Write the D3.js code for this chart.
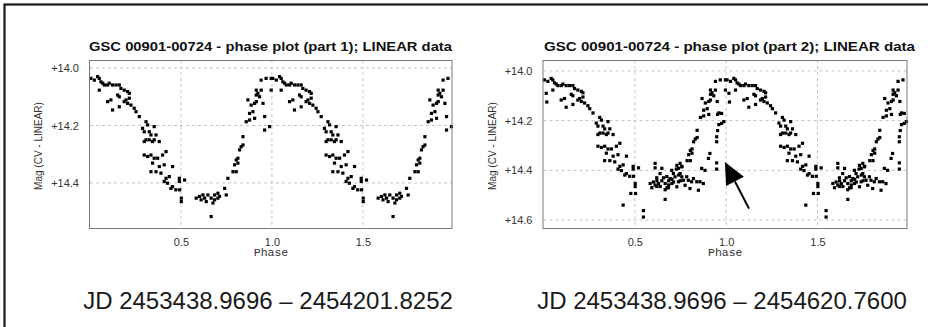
<!DOCTYPE html>
<html>
<head>
<meta charset="utf-8">
<script src="https://cdn.jsdelivr.net/npm/d3@7"></script>
<style>
  body { margin: 0; background: #fff; }
  svg { display: block; }
</style>
</head>
<body>
<div id="chart"></div>
<script>
// LINEAR photometry of GSC 00901-00724, phase 0..1 (each point is drawn at phase and phase+1)
// part 1: JD 2453438.9696 – 2454201.8252
const phase1 = [
  .005, .024, .042, .051, .060, .070, .079, .097, .106, .124, .143, .161, .170, .188, .207, .216,
  .051, .097, .115, .124, .152, .161, .161, .188, .198, .207, .216, .225, .243, .253, .271, .308,
  .317, .289, .298, .326, .353, .335, .363, .298, .308, .326, .344, .353, .381,
  .298, .317, .335, .353, .372, .399, .418, .344, .335, .363, .381, .390, .408, .454, .418, .408,
  .436, .426, .445, .454, .472, .491, .491,
  .520, .493, .502, .502, .584, .602, .611, .621, .630, .639, .648, .666, .676, .685, .685, .703,
  .703, .712, .666, .749, .740, .758, .786, .804, .795, .813, .804, .813, .822, .831, .841,
  .841, .859, .877, .877, .896, .905, .868, .886, .905, .914, .914, .923, .932, .914, .941, .951,
  .960, .960, .987, .996, .941, .968, .996
]
const mag1 = [
  14.036, 14.042, 14.030, 14.036, 14.048, 14.053, 14.059, 14.059, 14.053, 14.059, 14.059, 14.059, 14.071, 14.077, 14.082, 14.088,
  14.077, 14.117, 14.111, 14.146, 14.094, 14.135, 14.100, 14.117, 14.111, 14.123, 14.105, 14.129, 14.140, 14.152, 14.169, 14.187,
  14.198, 14.210, 14.222, 14.222, 14.204, 14.233, 14.233, 14.256, 14.250, 14.250, 14.256, 14.250, 14.256,
  14.303, 14.308, 14.303, 14.314, 14.314, 14.303, 14.291, 14.331, 14.361, 14.361, 14.343, 14.366, 14.337, 14.343, 14.384, 14.395,
  14.378, 14.401, 14.419, 14.413, 14.424, 14.384, 14.395,
  14.390, 14.424, 14.453, 14.465, 14.453, 14.447, 14.459, 14.442, 14.453, 14.465, 14.442, 14.453, 14.470, 14.442, 14.459, 14.436,
  14.453, 14.447, 14.517, 14.442, 14.419, 14.384, 14.361, 14.361, 14.337, 14.331, 14.320, 14.314, 14.285, 14.274, 14.268,
  14.239, 14.187, 14.181, 14.158, 14.152, 14.175, 14.111, 14.129, 14.123, 14.117, 14.094, 14.088, 14.100, 14.077, 14.077, 14.123,
  14.169, 14.216, 14.204, 14.077, 14.042, 14.036, 14.036
]
// part 2 adds the later data, up to JD 2454620.7600
const phase2Extra = [
  .015, .018, .436, .478, .504, .547, .547,
  .611, .611, .638, .648, .657, .675, .693, .702, .711, .720, .730, .739, .739, .748, .757, .757, .766,
  .775, .784, .793, .802, .811, .821, .839, .848, .857, .875, .866, .884, .727, .730, .620, .593, .666,
  .684, .620, .748,
  .903, .911, .948, .948, .948, .948, .953, .953, .975, .975
]
const mag2Extra = [
  14.090, 14.125, 14.540, 14.493, 14.493, 14.562, 14.588,
  14.372, 14.390, 14.413, 14.392, 14.430, 14.425, 14.433, 14.400, 14.413, 14.426, 14.466, 14.446, 14.392, 14.413, 14.386, 14.426, 14.440,
  14.460, 14.426, 14.440, 14.473, 14.446, 14.433, 14.446, 14.480, 14.446, 14.453, 14.392, 14.400, 14.395, 14.380, 14.465, 14.470, 14.478,
  14.470, 14.430, 14.372,
  14.352, 14.332, 14.395, 14.370, 14.285, 14.265, 14.240, 14.175, 14.171, 14.211
]

const xTicks = [0.5, 1.0, 1.5]
const yTicks1 = [14.0, 14.2, 14.4]
const yTicks2 = [14.0, 14.2, 14.4, 14.6]
const titles = [
  'GSC 00901-00724 - phase plot (part 1); LINEAR data',
  'GSC 00901-00724 - phase plot (part 2); LINEAR data',
]
const jdLabels = ['JD 2453438.9696 – 2454201.8252', 'JD 2453438.9696 – 2454620.7600']
// arrow in part 2: from [phase, mag] to [phase, mag]
const arrowFrom = [1.125, 14.554]
const arrowTo = [0.993, 14.366]

const WIDTH = 928
const HEIGHT = 327
const X_MAX = 1.99

const pts1 = phase1.map((p, i) => [p, mag1[i]])
const pts2 = pts1.concat(phase2Extra.map((p, i) => [p, mag2Extra[i]]))

const PANELS = [
  { left: 90, right: 452, top: 60, bottom: 228, yDomain: [13.972, 14.557], yTicks: yTicks1,
    pts: pts1, title: titles[0], titleX: 89, titleLen: 363, jd: jdLabels[0], jdX: 268 },
  { left: 543.5, right: 907, top: 60, bottom: 228, yDomain: [13.956, 14.632], yTicks: yTicks2,
    pts: pts2, title: titles[1], titleX: 544, titleLen: 371, jd: jdLabels[1], jdX: 722 },
]

const svg = d3.select('#chart').append('svg')
  .attr('width', WIDTH).attr('height', HEIGHT)
  .attr('font-family', "'Liberation Sans', Arial, sans-serif")

svg.append('rect').attr('width', WIDTH).attr('height', HEIGHT).attr('fill', '#fff')

// outer frame (runs off the right and bottom edges)
svg.append('rect')
  .attr('x', 4.5).attr('y', 4.5)
  .attr('width', WIDTH + 20).attr('height', HEIGHT + 20)
  .attr('fill', 'none').attr('stroke', '#1a1a1a').attr('stroke-width', 2.2)

PANELS.forEach((pn, pi) => {
  const x = d3.scaleLinear().domain([0, X_MAX]).range([pn.left, pn.right])
  const y = d3.scaleLinear().domain(pn.yDomain).range([pn.top, pn.bottom])
  const g = svg.append('g')

  // grid
  g.selectAll('.gx').data(xTicks).enter().append('line')
    .attr('x1', d => x(d)).attr('x2', d => x(d))
    .attr('y1', pn.top).attr('y2', pn.bottom)
    .attr('stroke', '#c4c4c4').attr('stroke-dasharray', '3,3')
  g.selectAll('.gy').data(pn.yTicks).enter().append('line')
    .attr('x1', pn.left).attr('x2', pn.right)
    .attr('y1', d => y(d)).attr('y2', d => y(d))
    .attr('stroke', '#c4c4c4').attr('stroke-dasharray', '3,3')

  // axes, labels only
  const xAxis = g.append('g')
    .attr('transform', `translate(0,${pn.bottom})`)
    .call(d3.axisBottom(x).tickValues(xTicks).tickFormat(d3.format('.1f')).tickSize(0).tickPadding(10))
  const yAxis = g.append('g')
    .attr('transform', `translate(${pn.left},0)`)
    .call(d3.axisLeft(y).tickValues(pn.yTicks).tickFormat(d => '+' + d.toFixed(1)).tickSize(0).tickPadding(11))
  for (const ax of [xAxis, yAxis]) {
    ax.select('.domain').remove()
    ax.selectAll('text')
      .attr('fill', '#333').attr('font-size', '11px')
      .attr('font-family', "'Liberation Sans', Arial, sans-serif")
  }

  // points, each drawn at phase and phase + 1
  const all = pn.pts.flatMap(([p, m]) => [[p, m], [p + 1, m]]).filter(d => d[0] <= X_MAX)
  g.selectAll('.pt').data(all).enter().append('rect')
    .attr('x', d => x(d[0]) - 1.6).attr('y', d => y(d[1]) - 1.6)
    .attr('width', 3.2).attr('height', 3.2)
    .attr('fill', '#000')

  // plot frame
  g.append('rect')
    .attr('x', pn.left - 0.5).attr('y', pn.top + 0.5)
    .attr('width', pn.right - pn.left + 0.5).attr('height', pn.bottom - pn.top)
    .attr('fill', 'none').attr('stroke', '#7a7a7a').attr('stroke-width', 1)

  g.append('text')
    .attr('x', pn.titleX).attr('y', 51)
    .attr('textLength', pn.titleLen).attr('lengthAdjust', 'spacingAndGlyphs')
    .attr('font-size', '13px').attr('font-weight', 'bold').attr('fill', '#111')
    .text(pn.title)

  g.append('text')
    .attr('x', (pn.left + pn.right) / 2).attr('y', 256)
    .attr('text-anchor', 'middle')
    .attr('font-family', "'Liberation Mono', 'Courier New', monospace")
    .attr('font-size', '11.5px').attr('fill', '#333')
    .text('Phase')

  g.append('text')
    .attr('transform', `translate(${pn.left - 48},146) rotate(-90)`)
    .attr('text-anchor', 'middle')
    .attr('font-size', '10px').attr('fill', '#333')
    .text('Mag (CV - LINEAR)')

  g.append('text')
    .attr('x', pn.jdX).attr('y', 309)
    .attr('text-anchor', 'middle')
    .attr('font-size', '24px').attr('fill', '#1a1a1a')
    .text(pn.jd)

  if (pi === 1) {
    const [x0, y0] = [x(arrowFrom[0]), y(arrowFrom[1])]
    const [x1, y1] = [x(arrowTo[0]), y(arrowTo[1])]
    const len = Math.hypot(x1 - x0, y1 - y0)
    const ux = (x1 - x0) / len, uy = (y1 - y0) / len
    const headLen = 22, halfW = 10
    const bx = x1 - ux * headLen, by = y1 - uy * headLen
    g.append('line')
      .attr('x1', x0).attr('y1', y0).attr('x2', bx).attr('y2', by)
      .attr('stroke', '#000').attr('stroke-width', 2)
    g.append('polygon')
      .attr('points', [[x1, y1], [bx - uy * halfW, by + ux * halfW], [bx + uy * halfW, by - ux * halfW]].join(' '))
      .attr('fill', '#000')
  }
})
</script>
</body>
</html>
